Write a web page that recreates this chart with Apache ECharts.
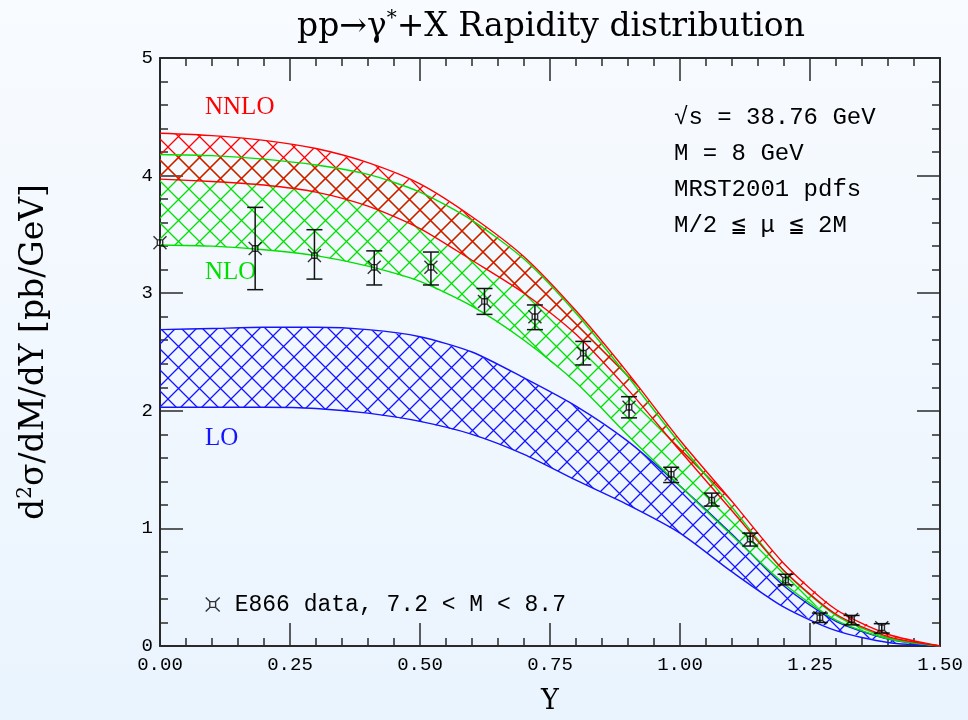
<!DOCTYPE html>
<html>
<head>
<meta charset="utf-8">
<script src="https://cdn.jsdelivr.net/npm/echarts@6/dist/echarts.min.js"></script>
<style>html,body{margin:0;padding:0;}#c{width:968px;height:720px;}</style>
</head>
<body>
<div id="c"></div>
<script>
// ---- data ----
const rapidity = [0.0, 0.1, 0.2, 0.3, 0.4, 0.5, 0.6, 0.7, 0.8, 0.9, 1.0, 1.1, 1.2, 1.3, 1.4, 1.5];
const nnloUpper = [4.36, 4.34, 4.30, 4.23, 4.11, 3.93, 3.65, 3.31, 2.85, 2.32, 1.75, 1.23, 0.70, 0.31, 0.10, 0.0];
const nnloLower = [3.97, 3.95, 3.92, 3.86, 3.74, 3.55, 3.28, 3.00, 2.65, 2.18, 1.66, 1.15, 0.64, 0.27, 0.08, 0.0];
const nloUpper  = [4.18, 4.17, 4.14, 4.09, 4.01, 3.86, 3.62, 3.29, 2.83, 2.29, 1.72, 1.18, 0.64, 0.26, 0.07, 0.0];
const nloLower  = [3.41, 3.40, 3.37, 3.32, 3.23, 3.10, 2.89, 2.60, 2.24, 1.79, 1.36, 0.94, 0.53, 0.22, 0.06, 0.0];
const loUpper   = [2.69, 2.70, 2.71, 2.71, 2.69, 2.63, 2.50, 2.28, 2.04, 1.74, 1.36, 0.95, 0.51, 0.21, 0.06, 0.0];
const loLower   = [2.03, 2.03, 2.03, 2.02, 1.98, 1.91, 1.80, 1.63, 1.41, 1.20, 0.96, 0.63, 0.33, 0.13, 0.03, 0.0];

const e866Y   = [0.0, 0.183, 0.297, 0.412, 0.521, 0.624, 0.721, 0.814, 0.902, 0.983, 1.061, 1.135, 1.203, 1.269, 1.330, 1.388];
const e866Val = [3.43, 3.38, 3.32, 3.22, 3.22, 2.93, 2.80, 2.49, 2.03, 1.46, 1.24, 0.91, 0.56, 0.24, 0.225, 0.155];
const e866Hi  = [3.43, 3.73, 3.54, 3.36, 3.35, 3.04, 2.90, 2.59, 2.12, 1.52, 1.30, 0.96, 0.61, 0.28, 0.26, 0.19];
const e866Lo  = [3.43, 3.03, 3.12, 3.07, 3.07, 2.82, 2.69, 2.39, 1.94, 1.39, 1.19, 0.85, 0.52, 0.20, 0.18, 0.11];

const xTicks = { min: 0, max: 1.5, interval: 0.25 };
const yTicks = { min: 0, max: 5, interval: 1 };

const annotations = ['√s = 38.76 GeV', 'M = 8 GeV', 'MRST2001 pdfs', 'M/2 ≦ μ ≦ 2M'];
const legendName = 'E866 data, 7.2 < M < 8.7';

// ---- styling ----
const RED = '#ff0000', GREEN = '#00e000', BLUE = '#1414ff';
const MONO = '"Liberation Mono", monospace';
const SERIF = '"DejaVu Serif", serif';
const TSERIF = '"Liberation Serif", serif';
const SMOOTH = 0.25;

function hatch(color, size) {
  const c = document.createElement('canvas');
  c.width = size; c.height = size;
  const g = c.getContext('2d');
  g.strokeStyle = color; g.lineWidth = 1.3;
  g.beginPath();
  g.moveTo(-2, -2); g.lineTo(size + 2, size + 2);
  g.moveTo(size + 2, -2); g.lineTo(-2, size + 2);
  g.stroke();
  return c;
}

function edge(name, values, color) {
  return {
    type: 'line', name: name, smooth: SMOOTH, symbol: 'none', silent: true, z: 3,
    lineStyle: { color: color, width: 1.4 },
    data: rapidity.map((x, i) => [x, values[i]])
  };
}

function band(name, lower, upper, color) {
  const pattern = { image: hatch(color, 21), repeat: 'repeat' };
  return [
    {
      type: 'custom', name: name + '_band', silent: true, z: 2,
      data: [[0]],
      renderItem: function (params, api) {
        const pts = [];
        for (let i = 0; i < rapidity.length; i++) pts.push(api.coord([rapidity[i], upper[i]]));
        for (let i = rapidity.length - 1; i >= 0; i--) pts.push(api.coord([rapidity[i], lower[i]]));
        return { type: 'polygon', shape: { points: pts }, style: { fill: pattern, stroke: null } };
      }
    },
    edge(name + '_lo', lower, color),
    edge(name + '_hi', upper, color)
  ];
}

const axisLine = { show: true, onZero: false, lineStyle: { color: '#2a2a2a', width: 2 } };
const tickStyle = { color: '#2a2a2a', width: 1.5 };

function xAx(pos, labels) {
  return {
    type: 'value', position: pos, min: xTicks.min, max: xTicks.max, interval: xTicks.interval,
    axisLine: axisLine,
    axisTick: { show: true, inside: true, length: 23, lineStyle: tickStyle },
    minorTick: { show: true, splitNumber: 5, length: 8, lineStyle: tickStyle },
    splitLine: { show: false },
    axisLabel: labels ? { show: true, color: '#000', fontFamily: MONO, fontSize: 19, margin: 9,
      formatter: v => v.toFixed(2) } : { show: false },
    name: labels ? 'Y' : '', nameLocation: 'middle', nameGap: 42,
    nameTextStyle: { fontFamily: SERIF, fontSize: 27, color: '#000' }
  };
}
function yAx(pos, labels) {
  return {
    type: 'value', position: pos, min: yTicks.min, max: yTicks.max, interval: yTicks.interval,
    axisLine: axisLine,
    axisTick: { show: true, inside: true, length: 23, lineStyle: tickStyle },
    minorTick: { show: true, splitNumber: 5, length: 8, lineStyle: tickStyle },
    splitLine: { show: false },
    axisLabel: labels ? { show: true, color: '#000', fontFamily: MONO, fontSize: 19, margin: 7 } : { show: false },
    name: labels ? 'd{s|2}σ/dM/dY [pb/GeV]' : '', nameLocation: 'middle', nameGap: 108, nameRotate: 90,
    nameTextStyle: { fontFamily: SERIF, fontSize: 33, color: '#000',
      rich: { s: { fontFamily: SERIF, fontSize: 20, verticalAlign: 'top', color: '#000', lineHeight: 36 } } }
  };
}

const chart = echarts.init(document.getElementById('c'));
const markerPath = 'path://M0,0L3.5,3.5M12,0L8.5,3.5M0,12L3.5,8.5M12,12L8.5,8.5M3.5,3.5H8.5V8.5H3.5Z';

const option = {
  animation: false,
  backgroundColor: {
    type: 'linear', x: 0, y: 0, x2: 0, y2: 1,
    colorStops: [{ offset: 0, color: '#f8fbff' }, { offset: 1, color: '#eaf4fe' }]
  },
  grid: { left: 160, right: 28, top: 58, bottom: 70, containLabel: false },
  xAxis: [xAx('bottom', true), xAx('top', false)],
  yAxis: [yAx('left', true), yAx('right', false)],
  legend: {
    show: true, left: 205, top: 593, padding: 0, itemWidth: 14, itemHeight: 14,
    data: [{ name: legendName, icon: markerPath }],
    itemStyle: { color: 'rgba(0,0,0,0)', borderColor: '#000', borderWidth: 1.4 },
    textStyle: { fontFamily: MONO, fontSize: 23, color: '#000', padding: [0, 0, 0, 10] }
  },
  graphic: [
    { type: 'text', x: 551, y: 27, style: {
        text: 'pp→γ{s|*}+X Rapidity distribution', fill: '#000',
        fontFamily: SERIF, fontSize: 33,
        align: 'center', verticalAlign: 'middle', textAlign: 'center', textVerticalAlign: 'middle',
        rich: { s: { fontSize: 20, fontFamily: SERIF, verticalAlign: 'top', lineHeight: 36, fill: '#000' } }
      } },
    { type: 'text', x: 205, y: 107, style: { text: 'NNLO', fill: RED, fontFamily: TSERIF, fontSize: 25,
        verticalAlign: 'middle', textVerticalAlign: 'middle' } },
    { type: 'text', x: 205, y: 272, style: { text: 'NLO', fill: GREEN, fontFamily: TSERIF, fontSize: 25,
        verticalAlign: 'middle', textVerticalAlign: 'middle' } },
    { type: 'text', x: 205, y: 438, style: { text: 'LO', fill: BLUE, fontFamily: TSERIF, fontSize: 25,
        verticalAlign: 'middle', textVerticalAlign: 'middle' } }
  ].concat(annotations.map((t, i) => ({
    type: 'text', x: 674, y: 118 + i * 36,
    style: { text: t, fill: '#000', fontFamily: MONO, fontSize: 24, verticalAlign: 'middle', textVerticalAlign: 'middle' }
  }))),
  series: [].concat(
    band('LO', loLower, loUpper, BLUE),
    band('NLO', nloLower, nloUpper, GREEN),
    band('NNLO', nnloLower, nnloUpper, RED),
    [
      {
        type: 'custom', name: 'errbars', silent: true, z: 5,
        data: e866Y.map((x, i) => [x, e866Lo[i], e866Hi[i]]),
        renderItem: function (params, api) {
          const x = api.value(0);
          const lo = api.coord([x, api.value(1)]);
          const hi = api.coord([x, api.value(2)]);
          if (Math.abs(hi[1] - lo[1]) < 1) return { type: 'group', children: [] };
          const w = 8;
          const st = { stroke: '#111', lineWidth: 1.5 };
          return {
            type: 'group',
            children: [
              { type: 'line', shape: { x1: lo[0], y1: lo[1], x2: hi[0], y2: hi[1] }, style: st },
              { type: 'line', shape: { x1: lo[0] - w, y1: lo[1], x2: lo[0] + w, y2: lo[1] }, style: st },
              { type: 'line', shape: { x1: hi[0] - w, y1: hi[1], x2: hi[0] + w, y2: hi[1] }, style: st }
            ]
          };
        }
      },
      {
        type: 'scatter', name: legendName, z: 6, symbol: markerPath, symbolSize: 13,
        itemStyle: { color: 'rgba(0,0,0,0)', borderColor: '#000', borderWidth: 1.4 },
        data: e866Y.map((x, i) => [x, e866Val[i]])
      }
    ]
  )
};
chart.setOption(option);
</script>
</body>
</html>
